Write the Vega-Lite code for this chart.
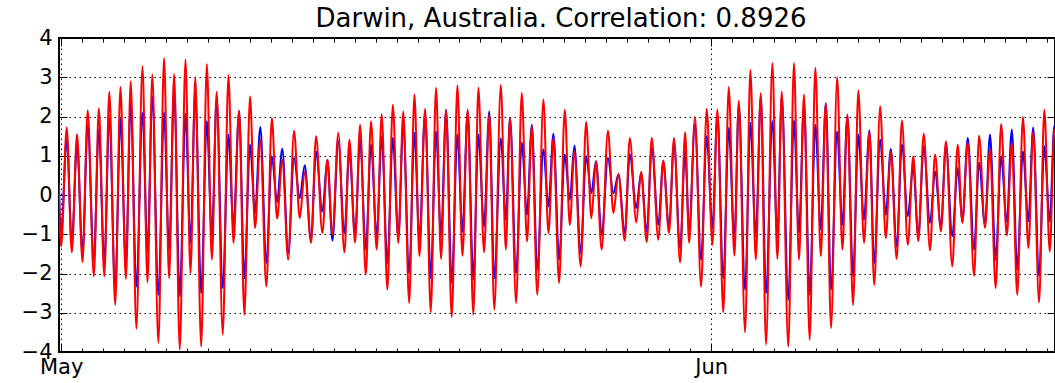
{
 "$schema": "https://vega.github.io/schema/vega-lite/v6.json",
 "autosize": {"type": "none"},
 "padding": {"left": 59, "top": 38, "right": 0, "bottom": 31},
 "width": 996,
 "height": 314,
 "title": {"text": "Darwin, Australia. Correlation: 0.8926", "font": "DejaVu Sans", "fontSize": 26, "fontWeight": "normal", "color": "black", "offset": 0, "dx": 4, "dy": 5},
 "config": {
  "view": {"stroke": "black", "strokeWidth": 2},
  "axis": {"labelFont": "DejaVu Sans", "labelFontSize": 21, "labelColor": "black", "domain": false, "tickColor": "black", "gridColor": "black", "gridDash": [1.5, 3.5], "gridWidth": 1, "title": null}
 },
 "data": {"values": [
  {"d":-0.12,"r":0.3,"b":0.6},
  {"d":0.00,"r":-1.31,"b":-1.01},
  {"d":0.27,"r":1.72,"b":1.45},
  {"d":0.51,"r":-1.46,"b":-1.22},
  {"d":0.76,"r":1.55,"b":1.28},
  {"d":1.02,"r":-1.71,"b":-1.48},
  {"d":1.27,"r":2.16,"b":1.79},
  {"d":1.56,"r":-2.07,"b":-1.65},
  {"d":1.80,"r":2.21,"b":1.67},
  {"d":2.06,"r":-2.07,"b":-1.73},
  {"d":2.30,"r":2.63,"b":1.96},
  {"d":2.58,"r":-2.80,"b":-2.37},
  {"d":2.83,"r":2.75,"b":1.94},
  {"d":3.09,"r":-2.14,"b":-1.73},
  {"d":3.32,"r":2.90,"b":2.35},
  {"d":3.59,"r":-3.41,"b":-2.33},
  {"d":3.88,"r":3.28,"b":2.09},
  {"d":4.12,"r":-2.23,"b":-1.44},
  {"d":4.35,"r":3.07,"b":2.51},
  {"d":4.64,"r":-3.77,"b":-2.54},
  {"d":4.91,"r":3.49,"b":2.11},
  {"d":5.15,"r":-2.12,"b":-1.39},
  {"d":5.39,"r":3.08,"b":2.68},
  {"d":5.66,"r":-3.94,"b":-2.58},
  {"d":5.93,"r":3.45,"b":2.07},
  {"d":6.17,"r":-1.99,"b":-1.22},
  {"d":6.40,"r":3.00,"b":2.65},
  {"d":6.68,"r":-3.86,"b":-2.50},
  {"d":6.95,"r":3.34,"b":1.88},
  {"d":7.19,"r":-1.65,"b":-1.05},
  {"d":7.42,"r":2.63,"b":2.43},
  {"d":7.71,"r":-3.56,"b":-2.37},
  {"d":7.98,"r":3.05,"b":1.54},
  {"d":8.22,"r":-1.22,"b":-0.80},
  {"d":8.49,"r":2.15,"b":2.13},
  {"d":8.74,"r":-3.05,"b":-2.12},
  {"d":9.01,"r":2.51,"b":1.28},
  {"d":9.25,"r":-0.84,"b":-0.46},
  {"d":9.50,"r":1.41,"b":1.73},
  {"d":9.79,"r":-2.33,"b":-1.73},
  {"d":10.05,"r":1.96,"b":0.99},
  {"d":10.30,"r":-0.60,"b":-0.18},
  {"d":10.55,"r":0.90,"b":1.18},
  {"d":10.83,"r":-1.65,"b":-1.48},
  {"d":11.11,"r":1.64,"b":0.94},
  {"d":11.38,"r":-0.59,"b":-0.08},
  {"d":11.62,"r":0.60,"b":0.76},
  {"d":11.92,"r":-1.22,"b":-1.14},
  {"d":12.16,"r":1.50,"b":1.11},
  {"d":12.46,"r":-0.97,"b":-0.42},
  {"d":12.70,"r":0.90,"b":0.90},
  {"d":12.94,"r":-1.01,"b":-1.16},
  {"d":13.22,"r":1.58,"b":1.37},
  {"d":13.51,"r":-1.46,"b":-0.97},
  {"d":13.75,"r":1.41,"b":1.11},
  {"d":14.02,"r":-1.21,"b":-1.01},
  {"d":14.26,"r":1.79,"b":1.41},
  {"d":14.53,"r":-2.03,"b":-1.39},
  {"d":14.78,"r":1.88,"b":1.28},
  {"d":15.05,"r":-1.39,"b":-1.05},
  {"d":15.29,"r":2.06,"b":1.50},
  {"d":15.56,"r":-2.41,"b":-1.73},
  {"d":15.82,"r":2.30,"b":1.45},
  {"d":16.08,"r":-1.22,"b":-1.05},
  {"d":16.32,"r":2.13,"b":1.79},
  {"d":16.60,"r":-2.75,"b":-1.99},
  {"d":16.85,"r":2.56,"b":1.58},
  {"d":17.09,"r":-1.56,"b":-1.14},
  {"d":17.36,"r":2.20,"b":2.09},
  {"d":17.63,"r":-2.99,"b":-2.12},
  {"d":17.88,"r":2.73,"b":1.62},
  {"d":18.12,"r":-1.63,"b":-1.05},
  {"d":18.36,"r":2.15,"b":2.17},
  {"d":18.63,"r":-3.11,"b":-2.24},
  {"d":18.90,"r":2.79,"b":1.54},
  {"d":19.14,"r":-1.55,"b":-0.93},
  {"d":19.39,"r":2.18,"b":2.13},
  {"d":19.66,"r":-3.05,"b":-2.16},
  {"d":19.90,"r":2.73,"b":1.54},
  {"d":20.17,"r":-1.46,"b":-0.80},
  {"d":20.42,"r":2.05,"b":2.13},
  {"d":20.66,"r":-2.92,"b":-2.12},
  {"d":20.97,"r":2.80,"b":1.44},
  {"d":21.21,"r":-1.39,"b":-0.63},
  {"d":21.41,"r":1.96,"b":1.96},
  {"d":21.70,"r":-2.75,"b":-1.99},
  {"d":21.97,"r":2.60,"b":1.33},
  {"d":22.22,"r":-1.18,"b":-0.50},
  {"d":22.45,"r":1.75,"b":1.79},
  {"d":22.71,"r":-2.54,"b":-1.90},
  {"d":23.00,"r":2.43,"b":1.16},
  {"d":23.24,"r":-0.97,"b":-0.29},
  {"d":23.48,"r":1.45,"b":1.56},
  {"d":23.75,"r":-2.24,"b":-1.65},
  {"d":24.02,"r":2.17,"b":1.03},
  {"d":24.26,"r":-0.76,"b":-0.12},
  {"d":24.48,"r":1.11,"b":1.26},
  {"d":24.78,"r":-1.82,"b":-1.48},
  {"d":25.04,"r":1.86,"b":0.99},
  {"d":25.29,"r":-0.59,"b":0.05},
  {"d":25.51,"r":0.86,"b":0.86},
  {"d":25.78,"r":-1.39,"b":-1.01},
  {"d":26.08,"r":1.64,"b":0.94},
  {"d":26.34,"r":-0.46,"b":0.05},
  {"d":26.58,"r":0.54,"b":0.52},
  {"d":26.88,"r":-1.16,"b":-0.97},
  {"d":27.12,"r":1.45,"b":1.03},
  {"d":27.43,"r":-0.70,"b":-0.33},
  {"d":27.66,"r":0.59,"b":0.56},
  {"d":27.93,"r":-1.20,"b":-0.93},
  {"d":28.17,"r":1.45,"b":1.20},
  {"d":28.48,"r":-1.14,"b":-0.76},
  {"d":28.72,"r":0.88,"b":0.86},
  {"d":28.99,"r":-0.97,"b":-0.84},
  {"d":29.23,"r":1.45,"b":1.33},
  {"d":29.52,"r":-1.72,"b":-1.35},
  {"d":29.76,"r":1.60,"b":1.11},
  {"d":29.95,"r":-1.22,"b":-0.88},
  {"d":30.23,"r":1.99,"b":1.81},
  {"d":30.52,"r":-2.34,"b":-1.65},
  {"d":30.79,"r":2.20,"b":1.50},
  {"d":31.06,"r":-1.27,"b":-0.84},
  {"d":31.30,"r":2.18,"b":2.05},
  {"d":31.58,"r":-2.99,"b":-2.12},
  {"d":31.84,"r":2.75,"b":1.71},
  {"d":32.11,"r":-1.55,"b":-1.14},
  {"d":32.32,"r":2.40,"b":2.30},
  {"d":32.62,"r":-3.50,"b":-2.41},
  {"d":32.87,"r":3.19,"b":1.84},
  {"d":33.13,"r":-1.65,"b":-1.05},
  {"d":33.37,"r":2.60,"b":2.51},
  {"d":33.62,"r":-3.81,"b":-2.50},
  {"d":33.92,"r":3.36,"b":1.88},
  {"d":34.16,"r":-1.63,"b":-1.05},
  {"d":34.37,"r":2.64,"b":2.51},
  {"d":34.68,"r":-3.86,"b":-2.67},
  {"d":34.95,"r":3.36,"b":1.90},
  {"d":35.19,"r":-1.65,"b":-0.97},
  {"d":35.43,"r":2.56,"b":2.30},
  {"d":35.70,"r":-3.69,"b":-2.54},
  {"d":35.97,"r":3.24,"b":1.79},
  {"d":36.23,"r":-1.56,"b":-0.88},
  {"d":36.47,"r":2.34,"b":2.34},
  {"d":36.72,"r":-3.39,"b":-2.41},
  {"d":37.01,"r":3.00,"b":1.62},
  {"d":37.26,"r":-1.39,"b":-0.76},
  {"d":37.50,"r":2.05,"b":2.02},
  {"d":37.77,"r":-2.80,"b":-2.07},
  {"d":38.02,"r":2.66,"b":1.54},
  {"d":38.29,"r":-1.22,"b":-0.63},
  {"d":38.55,"r":1.62,"b":1.65},
  {"d":38.78,"r":-2.29,"b":-1.73},
  {"d":39.06,"r":2.26,"b":1.41},
  {"d":39.33,"r":-1.10,"b":-0.50},
  {"d":39.57,"r":1.11,"b":1.17},
  {"d":39.85,"r":-1.63,"b":-1.31},
  {"d":40.10,"r":1.90,"b":1.28},
  {"d":40.38,"r":-1.27,"b":-0.54},
  {"d":40.64,"r":0.99,"b":0.73},
  {"d":40.88,"r":-1.18,"b":-1.05},
  {"d":41.14,"r":1.56,"b":1.24},
  {"d":41.44,"r":-1.41,"b":-0.71},
  {"d":41.68,"r":1.03,"b":0.60},
  {"d":41.96,"r":-0.93,"b":-0.80},
  {"d":42.20,"r":1.37,"b":1.28},
  {"d":42.50,"r":-1.82,"b":-1.05},
  {"d":42.76,"r":1.28,"b":0.69},
  {"d":42.98,"r":-0.71,"b":-0.67},
  {"d":43.24,"r":1.33,"b":1.45},
  {"d":43.54,"r":-2.06,"b":-1.39},
  {"d":43.78,"r":1.51,"b":0.83},
  {"d":44.06,"r":-0.84,"b":-0.76},
  {"d":44.30,"r":1.16,"b":1.54},
  {"d":44.57,"r":-2.37,"b":-1.65},
  {"d":44.83,"r":1.81,"b":0.99},
  {"d":45.10,"r":-1.03,"b":-0.67},
  {"d":45.34,"r":1.33,"b":1.67},
  {"d":45.60,"r":-2.54,"b":-1.90},
  {"d":45.87,"r":1.99,"b":1.11},
  {"d":46.13,"r":-1.35,"b":-0.67},
  {"d":46.36,"r":1.62,"b":1.72},
  {"d":46.64,"r":-2.74,"b":-2.06},
  {"d":46.89,"r":2.17,"b":1.24},
  {"d":47.15,"r":-1.44,"b":-0.67},
  {"d":47.37,"r":1.67,"b":1.77},
  {"d":47.64,"r":-1.50,"b":-1.00}
 ]},
 "layer": [
  {
   "mark": {"type": "line", "color": "#0000ff", "strokeWidth": 2, "interpolate": "monotone", "clip": true},
   "encoding": {
    "x": {"field": "d", "type": "quantitative", "scale": {"domain": [-0.1, 47.4], "nice": false, "zero": false},
     "axis": {"orient": "bottom", "values": [0,1,2,3,4,5,6,7,8,9,10,11,12,13,14,15,16,17,18,19,20,21,22,23,24,25,26,27,28,29,30,31,32,33,34,35,36,37,38,39,40,41,42,43,44,45,46,47],
      "labelExpr": "datum.value == 0 ? 'May' : (datum.value == 31 ? 'Jun' : '')",
      "labelFlush": false, "labelOverlap": false, "labelPadding": 12,
      "tickSize": {"condition": {"test": "datum.value == 0 || datum.value == 31", "value": -8}, "value": -4},
      "grid": true,
      "gridOpacity": {"condition": {"test": "datum.value == 0 || datum.value == 31", "value": 1}, "value": 0}}},
    "y": {"field": "b", "type": "quantitative", "scale": {"domain": [-4, 4], "nice": false},
     "axis": {"orient": "left", "values": [-4,-3,-2,-1,0,1,2,3,4], "grid": true, "tickSize": -8, "labelPadding": 15}}
   }
  },
  {
   "mark": {"type": "line", "color": "#ff0000", "strokeWidth": 2, "interpolate": "monotone", "clip": true},
   "encoding": {
    "x": {"field": "d", "type": "quantitative", "scale": {"domain": [-0.1, 47.4], "nice": false, "zero": false},
     "axis": {"orient": "top", "values": [0,1,2,3,4,5,6,7,8,9,10,11,12,13,14,15,16,17,18,19,20,21,22,23,24,25,26,27,28,29,30,31,32,33,34,35,36,37,38,39,40,41,42,43,44,45,46,47],
      "labels": false, "grid": false,
      "tickSize": {"condition": {"test": "datum.value == 0 || datum.value == 31", "value": -8}, "value": -4}}},
    "y": {"field": "r", "type": "quantitative", "scale": {"domain": [-4, 4], "nice": false},
     "axis": {"orient": "right", "values": [-4,-3,-2,-1,0,1,2,3,4], "labels": false, "grid": false, "tickSize": -8}}
   }
  }
 ],
 "resolve": {"axis": {"x": "independent", "y": "independent"}}
}
